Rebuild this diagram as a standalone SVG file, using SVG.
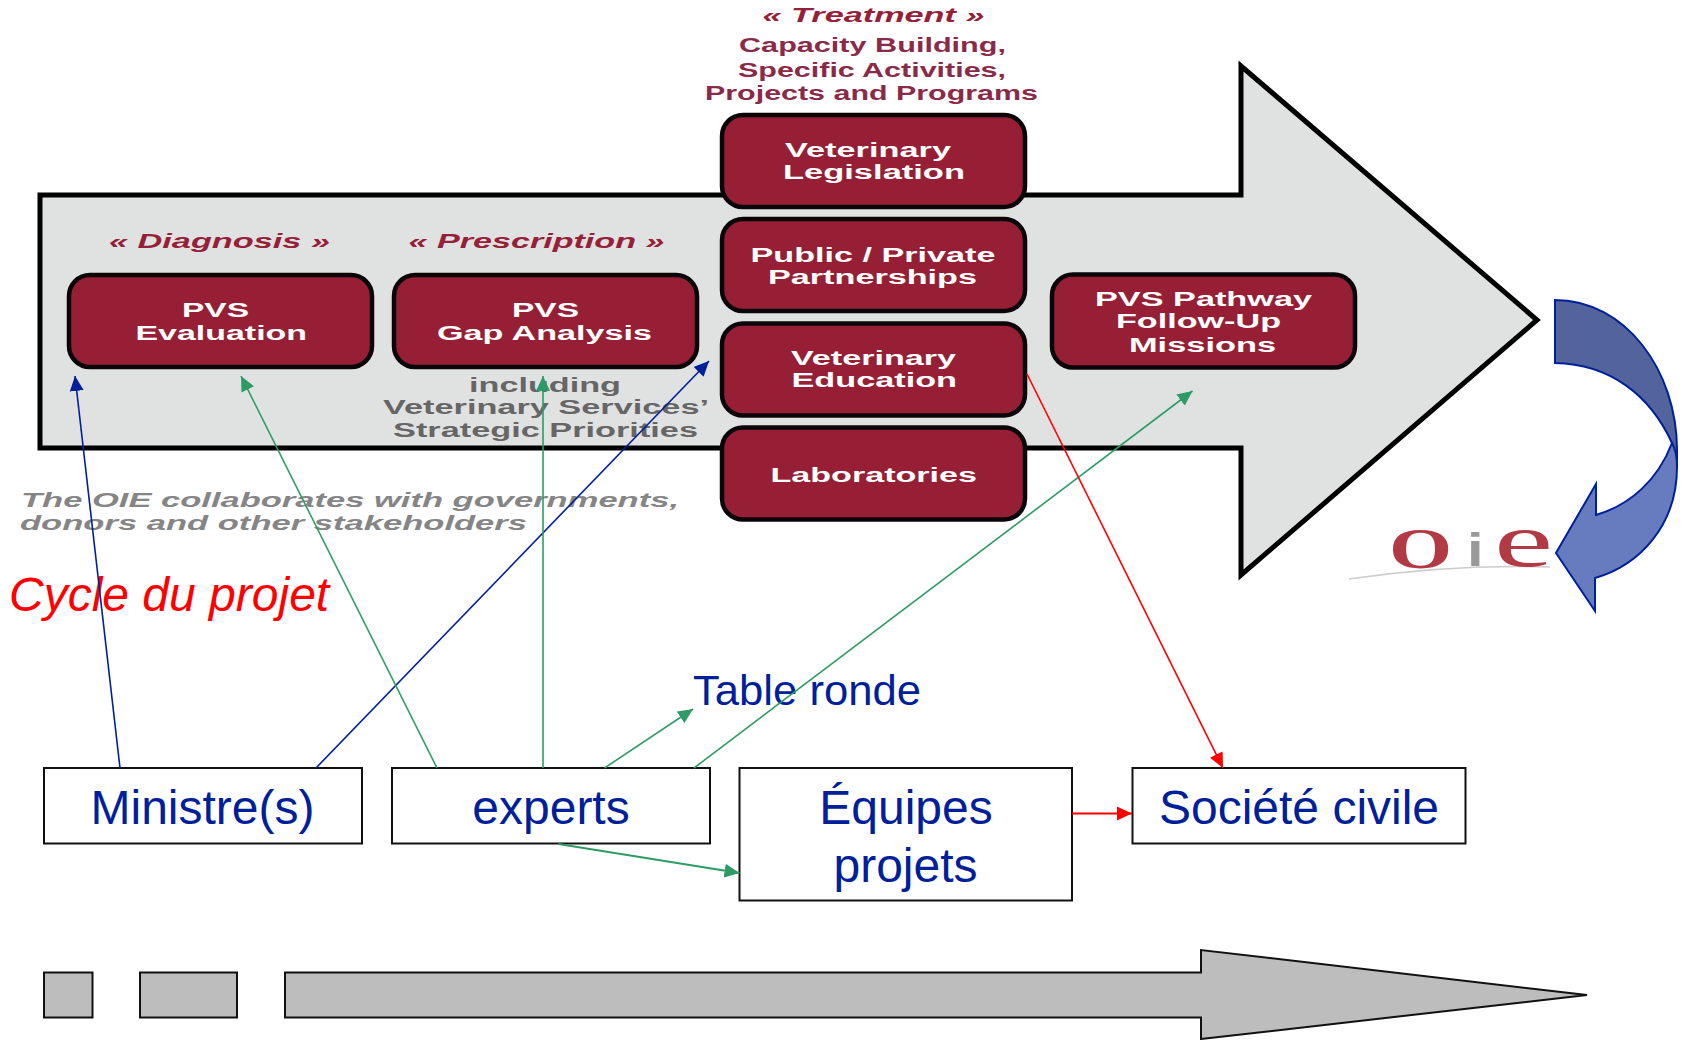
<svg xmlns="http://www.w3.org/2000/svg" width="1684" height="1040" viewBox="0 0 1684 1040">
<style>
text{font-family:"Liberation Sans",Arial,sans-serif}
.pw{fill:#fff;font-size:19.5px;font-weight:bold}
.ph{fill:#962038;font-size:19.5px;font-weight:bold;font-style:italic}
.tr{fill:#8a2a48;font-size:19.5px;font-weight:bold}
.gy{fill:#666;font-size:19.5px;font-weight:bold}
.gi{fill:#858585;font-size:19.5px;font-weight:bold;font-style:italic}
.box{fill:#961f35;stroke:#0a0508;stroke-width:4.5}
.lbl{fill:#fff;stroke:#111;stroke-width:2}
.ft{fill:#00209a;font-size:48px;text-anchor:middle}
.bar{fill:#bdbdbd;stroke:#111;stroke-width:2}
.c{fill:none;stroke-width:1.6}
.bl{stroke:#00209a}.gr{stroke:#2e9b66}.rd{stroke:#f00}
.logo{fill:#b23a45;font-family:"Liberation Serif",serif}
</style>
<defs>
<marker id="ab" markerUnits="userSpaceOnUse" markerWidth="15" markerHeight="14" refX="15" refY="7" orient="auto"><path d="M0 0L15 7L0 14Z" fill="#00209a"/></marker>
<marker id="ag" markerUnits="userSpaceOnUse" markerWidth="15" markerHeight="14" refX="15" refY="7" orient="auto"><path d="M0 0L15 7L0 14Z" fill="#2e9b66"/></marker>
<marker id="ar" markerUnits="userSpaceOnUse" markerWidth="15" markerHeight="14" refX="15" refY="7" orient="auto"><path d="M0 0L15 7L0 14Z" fill="#f00"/></marker>
</defs>
<g id="main-arrow"><path d="M40 195H1241V66L1537 320L1241 575V448H40Z" fill="#e0e2e2" stroke="#000" stroke-width="5"/></g>

<g id="diagnosis-label"><text class="ph" x="109" y="248" textLength="221" lengthAdjust="spacingAndGlyphs">« Diagnosis »</text></g>
<g id="prescription-label"><text class="ph" x="408.5" y="248" textLength="256" lengthAdjust="spacingAndGlyphs">« Prescription »</text></g>
<g id="treatment-label">
<text class="ph" x="762.5" y="22" textLength="222" lengthAdjust="spacingAndGlyphs">« Treatment »</text>
<text class="tr" x="739" y="52" textLength="267" lengthAdjust="spacingAndGlyphs">Capacity Building,</text>
<text class="tr" x="738" y="77" textLength="268" lengthAdjust="spacingAndGlyphs">Specific Activities,</text>
<text class="tr" x="705" y="100" textLength="333" lengthAdjust="spacingAndGlyphs">Projects and Programs</text>
</g>

<g id="pvs-evaluation"><rect class="box" x="69" y="275" width="303" height="92" rx="21"/>
<text class="pw" x="182" y="317" textLength="67" lengthAdjust="spacingAndGlyphs">PVS</text>
<text class="pw" x="135.5" y="340" textLength="171.5" lengthAdjust="spacingAndGlyphs">Evaluation</text></g>
<g id="pvs-gap"><rect class="box" x="394" y="275" width="303" height="92" rx="21"/>
<text class="pw" x="512" y="317" textLength="67" lengthAdjust="spacingAndGlyphs">PVS</text>
<text class="pw" x="437" y="340" textLength="215" lengthAdjust="spacingAndGlyphs">Gap Analysis</text></g>
<g id="vet-legislation"><rect class="box" x="722" y="115" width="303" height="92" rx="21"/>
<text class="pw" x="785" y="157" textLength="166" lengthAdjust="spacingAndGlyphs">Veterinary</text>
<text class="pw" x="783" y="179" textLength="182" lengthAdjust="spacingAndGlyphs">Legislation</text></g>
<g id="public-private"><rect class="box" x="722" y="219" width="303" height="92" rx="21"/>
<text class="pw" x="750.5" y="262" textLength="245" lengthAdjust="spacingAndGlyphs">Public / Private</text>
<text class="pw" x="768" y="284" textLength="209" lengthAdjust="spacingAndGlyphs">Partnerships</text></g>
<g id="vet-education"><rect class="box" x="722" y="323.500" width="303" height="92" rx="21"/>
<text class="pw" x="791" y="365" textLength="165" lengthAdjust="spacingAndGlyphs">Veterinary</text>
<text class="pw" x="791.5" y="387" textLength="165.5" lengthAdjust="spacingAndGlyphs">Education</text></g>
<g id="laboratories"><rect class="box" x="722" y="427.500" width="303" height="92" rx="21"/>
<text class="pw" x="770.5" y="481.500" textLength="206.5" lengthAdjust="spacingAndGlyphs">Laboratories</text></g>
<g id="follow-up"><rect class="box" x="1052" y="274.500" width="303" height="93" rx="21"/>
<text class="pw" x="1095" y="306" textLength="217" lengthAdjust="spacingAndGlyphs">PVS Pathway</text>
<text class="pw" x="1116" y="328" textLength="165" lengthAdjust="spacingAndGlyphs">Follow-Up</text>
<text class="pw" x="1129" y="351.500" textLength="147" lengthAdjust="spacingAndGlyphs">Missions</text></g>

<g id="gap-note">
<text class="gy" x="469" y="391.500" textLength="152" lengthAdjust="spacingAndGlyphs">including</text>
<text class="gy" x="383" y="413.500" textLength="326" lengthAdjust="spacingAndGlyphs">Veterinary Services’</text>
<text class="gy" x="393" y="437" textLength="305" lengthAdjust="spacingAndGlyphs">Strategic Priorities</text>
</g>
<g id="oie-note">
<text class="gi" x="21" y="507" textLength="658" lengthAdjust="spacingAndGlyphs">The OIE collaborates with governments,</text>
<text class="gi" x="20" y="529.500" textLength="507" lengthAdjust="spacingAndGlyphs">donors and other stakeholders</text>
</g>
<g id="cycle-title"><text x="9" y="611" font-size="48" font-style="italic" fill="#f00">Cycle du projet</text></g>
<g id="table-ronde"><text x="693" y="704.500" font-size="42.6" textLength="228" lengthAdjust="spacingAndGlyphs" fill="#00209a">Table ronde</text></g>

<g id="oie-logo">
<path d="M1349 579Q1450 564 1550 567" fill="none" stroke="#ccc" stroke-width="1.5"/>
<text class="logo" transform="translate(1389 568) scale(1.4 1)" font-size="58" font-weight="bold">O</text>
<text transform="translate(1467 566) scale(1.3 1)" font-size="46" font-weight="bold" fill="#999">i</text>
<text class="logo" transform="translate(1494 566) scale(1.75 1)" font-size="76">e</text>
</g>
<g id="cycle-arrow" stroke="#00209a" stroke-width="2">
<path d="M1555 300C1625 300 1677 370 1677 450V467L1672 443C1650 395 1610 364 1555 363Z" fill="#53639b"/>
<path d="M1672 443C1676 450 1677 458 1677 467C1677 525 1640 565 1595 578V611L1556 553L1596 484V515C1630 505 1658 480 1672 443Z" fill="#667cbf"/>
</g>

<g id="ministres"><rect class="lbl" x="44" y="768" width="318" height="75.500"/><text class="ft" x="202.500" y="824">Ministre(s)</text></g>
<g id="experts"><rect class="lbl" x="392" y="768" width="318" height="75.500"/><text class="ft" x="551" y="824">experts</text></g>
<g id="equipes"><rect class="lbl" x="739.500" y="768" width="332.500" height="132.500"/><text class="ft" x="906" y="824">Équipes</text><text class="ft" x="905.500" y="882">projets</text></g>
<g id="societe"><rect class="lbl" x="1132.500" y="768" width="333" height="75.500"/><text class="ft" x="1299" y="824">Société civile</text></g>

<g id="timeline">
<rect class="bar" x="44" y="972.500" width="48.500" height="45"/>
<rect class="bar" x="140" y="972.500" width="97" height="45"/>
<path class="bar" d="M285 972.500H1201V950L1587 995L1201 1039V1017.500H285Z"/>
</g>

<g id="connectors">
<line class="c bl" x1="120" y1="768" x2="75" y2="376" marker-end="url(#ab)"/>
<line class="c bl" x1="316" y1="768" x2="709" y2="361" marker-end="url(#ab)"/>
<line class="c gr" x1="437" y1="768" x2="241" y2="376" marker-end="url(#ag)"/>
<line class="c gr" x1="543" y1="768" x2="543" y2="376" marker-end="url(#ag)"/>
<line class="c gr" x1="604.500" y1="768" x2="693" y2="709" marker-end="url(#ag)"/>
<line class="c gr" x1="694" y1="768" x2="1192.500" y2="391" marker-end="url(#ag)"/>
<line class="c gr" style="stroke-width:2" x1="558.500" y1="844" x2="739.500" y2="873" marker-end="url(#ag)"/>
<line class="c rd" x1="1027" y1="374" x2="1223" y2="768" marker-end="url(#ar)"/>
<line class="c rd" style="stroke-width:2" x1="1072" y1="813.500" x2="1132" y2="813.500" marker-end="url(#ar)"/>
</g>
</svg>
